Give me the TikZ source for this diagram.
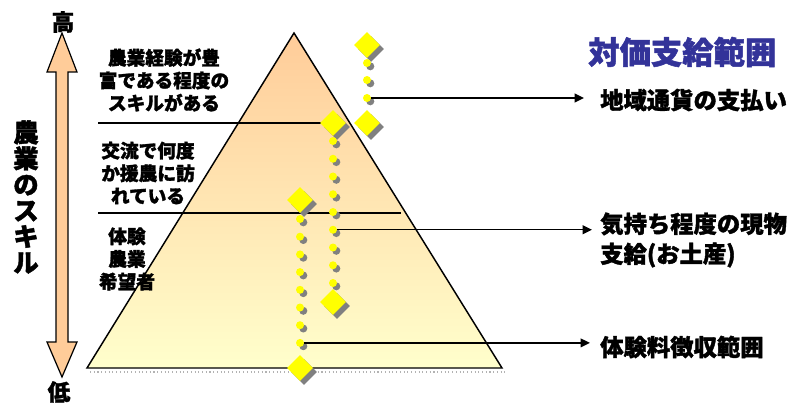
\documentclass[tikz,border=0pt]{standalone}
\usepackage{fontspec}
\setmainfont{Noto Sans CJK JP}[BoldFeatures={FakeBold=1.6}]
\usetikzlibrary{positioning,arrows.meta,shapes.geometric,shadows}
\definecolor{cPeach}{HTML}{FFCC99}
\definecolor{cCream}{HTML}{FFFFCC}
\definecolor{cGold}{HTML}{FFFF00}
\definecolor{cShade}{HTML}{808080}
\definecolor{cTitle}{HTML}{333399}

\begin{document}
\begin{tikzpicture}[x=0.75pt,y=-0.75pt,
    lvl/.style={font=\fontsize{14}{17}\selectfont\bfseries,align=center,inner sep=0pt},
    pay/.style={font=\fontsize{17.5}{22.5}\selectfont\bfseries,align=left,anchor=west,inner sep=0pt},
    gem/.style={diamond,fill=cGold,inner sep=0pt,minimum size=19.5pt,
                drop shadow={shadow xshift=3pt,shadow yshift=-3pt,fill=cShade,opacity=1}},
    bead/.style={circle,fill=cGold,inner sep=0pt,minimum size=6pt,
                drop shadow={shadow xshift=2.5pt,shadow yshift=-2.5pt,fill=cShade,opacity=1}},
    arr/.style={-{Triangle[length=7pt,width=6.5pt]},line width=1.1pt},
    sep/.style={line width=0.9pt}]
  \useasboundingbox (0,0) rectangle (790,403);
  % pyramid
  \shadedraw[top color=cPeach,bottom color=cCream,line width=1.1pt]
    (294,33) -- (502,368) -- (87,368) -- cycle;
  \draw[cShade!60,dotted,line width=0.8pt] (90,372) -- (505,372);
  \draw[sep] (98,123) -- (333,123);
  \draw[sep] (98,213) -- (401,213);
  % skill levels
  \node[lvl] (lvtop) at (164,80) {農業経験が豊\\富である程度の\\スキルがある};
  \node[lvl] (lvmid) at (148,173) {交流で何度\\か援農に訪\\れている};
  \node[lvl] (lvlow) at (127,259) {体験\\農業\\希望者};
  % skill axis
  \draw[fill=cPeach,line width=0.9pt] (62,33) -- (77,72) -- (68,72) -- (68,342) -- (77,342)
    -- (62,377) -- (47,342) -- (56,342) -- (56,72) -- (47,72) -- cycle;
  \node[font=\fontsize{17}{17}\selectfont\bfseries,inner sep=0pt] (hi) at (63,22) {高};
  \node[font=\fontsize{17}{17}\selectfont\bfseries,inner sep=0pt] (lo) at (59,392) {低};
  \node[font=\fontsize{19}{19.5}\selectfont\bfseries,align=center,inner sep=0pt] (skill) at (26,197)
    {農\\業\\の\\ス\\キ\\ル};
  % payment ranges
  \node[gem] (r0) at (367,45) {};
  \foreach \i/\y in {1/63,2/80,3/98} \node[bead] (r\i) at (367,\y) {};
  \node[gem] (r4) at (367,123) {};
  \node[gem] (m0) at (333,123) {};
  \foreach \i in {1,...,9} \node[bead] (m\i) at (333,{141+(\i-1)*17.75}) {};
  \node[gem] (m10) at (333,302) {};
  \node[gem] (l0) at (300,200) {};
  \foreach \i in {1,...,8} \node[bead] (l\i) at (300,{219+(\i-1)*17.7}) {};
  \node[gem] (l9) at (300,368) {};
  % labels
  \node[font=\fontsize{23.5}{23.5}\selectfont\bfseries,text=cTitle,anchor=west,inner sep=0pt] (ttl)
    at (588,52) {対価支給範囲};
  \node[pay] (p1) at (600,100) {地域通貨の支払い};
  \node[pay] (p2) at (600,240) {気持ち程度の現物\\支給(お土産)};
  \node[pay] (p3) at (600,347) {体験料徴収範囲};
  \draw[arr,shorten >=12pt] (r3.east) -- (r3 -| p1.west);
  \draw[arr,shorten >=6pt] (m6.east) -- (m6 -| p2.west);
  \draw[arr,shorten >=7.5pt] (l8.east) -- (l8 -| p3.west);
\end{tikzpicture}
\end{document}
